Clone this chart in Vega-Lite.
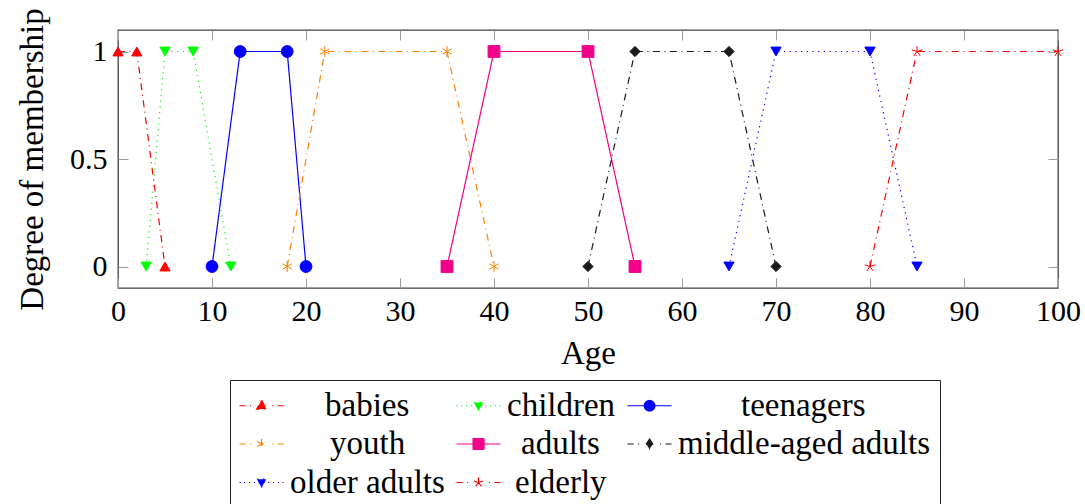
{
  "$schema": "https://vega.github.io/schema/vega-lite/v6.json",
  "autosize": {"type": "none"},
  "padding": {"left": 118, "top": 30, "right": 27, "bottom": 216},
  "width": 940,
  "height": 258,
  "background": "white",
  "config": {
    "view": {"stroke": "#404040", "strokeWidth": 1.3},
    "font": "Liberation Serif, DejaVu Serif, serif",
    "axis": {
      "grid": false, "domain": false, "ticks": true, "tickColor": "#9a9a9a", "tickSize": -10, "tickWidth": 1,
      "labelFont": "Liberation Serif, DejaVu Serif, serif", "labelFontSize": 30, "labelColor": "black", "labelFlush": false,
      "titleFont": "Liberation Serif, DejaVu Serif, serif", "titleFontSize": 33, "titleFontWeight": "normal", "titleColor": "black"
    }
  },
  "data": {"values": [
    {"series": "babies", "age": 0, "m": 1},
    {"series": "babies", "age": 2, "m": 1},
    {"series": "babies", "age": 5, "m": 0},
    {"series": "children", "age": 3, "m": 0},
    {"series": "children", "age": 5, "m": 1},
    {"series": "children", "age": 8, "m": 1},
    {"series": "children", "age": 12, "m": 0},
    {"series": "teenagers", "age": 10, "m": 0},
    {"series": "teenagers", "age": 13, "m": 1},
    {"series": "teenagers", "age": 18, "m": 1},
    {"series": "teenagers", "age": 20, "m": 0},
    {"series": "youth", "age": 18, "m": 0},
    {"series": "youth", "age": 22, "m": 1},
    {"series": "youth", "age": 35, "m": 1},
    {"series": "youth", "age": 40, "m": 0},
    {"series": "adults", "age": 35, "m": 0},
    {"series": "adults", "age": 40, "m": 1},
    {"series": "adults", "age": 50, "m": 1},
    {"series": "adults", "age": 55, "m": 0},
    {"series": "middle-aged adults", "age": 50, "m": 0},
    {"series": "middle-aged adults", "age": 55, "m": 1},
    {"series": "middle-aged adults", "age": 65, "m": 1},
    {"series": "middle-aged adults", "age": 70, "m": 0},
    {"series": "older adults", "age": 65, "m": 0},
    {"series": "older adults", "age": 70, "m": 1},
    {"series": "older adults", "age": 80, "m": 1},
    {"series": "older adults", "age": 85, "m": 0},
    {"series": "elderly", "age": 80, "m": 0},
    {"series": "elderly", "age": 85, "m": 1},
    {"series": "elderly", "age": 100, "m": 1}
  ]},
  "layer": [
    {
      "mark": {"type": "line", "strokeWidth": 1.2},
      "encoding": {
        "x": {"field": "age", "type": "quantitative",
              "scale": {"domain": [0, 100], "nice": false, "zero": false},
              "axis": {"orient": "bottom", "title": "Age", "values": [0,10,20,30,40,50,60,70,80,90,100], "labelPadding": 18, "titlePadding": 11}},
        "y": {"field": "m", "type": "quantitative",
              "scale": {"domain": [-0.1, 1.1], "nice": false, "zero": false},
              "axis": {"orient": "left", "title": "Degree of membership", "values": [0, 0.5, 1], "format": "~g", "labelPadding": 21, "titlePadding": 20}},
        "color": {"field": "series", "type": "nominal",
                  "scale": {"domain": ["babies","children","teenagers","youth","adults","middle-aged adults","older adults","elderly"],
                            "range": ["#ff0000","#00ff00","#0000ff","#ff8000","#f2008a","#1a1a1a","#0000ff","#ff0000"]},
                  "legend": {
                    "orient": "none", "direction": "horizontal", "legendX": 112, "legendY": 350, "title": null, "columns": 3,
                    "symbolSize": 484, "labelOffset": 18, "columnPadding": 9, "rowPadding": 4.5,
                    "padding": 9, "strokeColor": "#222222", "fillColor": "white",
                    "labelFont": "Liberation Serif, DejaVu Serif, serif", "labelFontSize": 33, "labelColor": "black", "labelLimit": 0,
                    "symbolStrokeWidth": 1.2,
                    "encode": {
                      "labels": {"update": {
                        "dx": {"signal": "datum.value === 'babies' ? 35 : datum.value === 'youth' ? 40 : datum.value === 'adults' ? 14 : datum.value === 'elderly' ? 8 : datum.value === 'teenagers' ? 63 : 0"}
                      }},
                      "symbols": {"update": {
                      "shape": {"signal": "datum.value === 'babies' ? 'M-1.45,0L-0.9,0M-0.5,0L-0.4,0M1.5,0L1.6,0M2,0L2.55,0M0.55,-0.5L1,0.3L0.1,0.3Z' : datum.value === 'children' ? 'M-1.45,0L-1.35,0M-1.05,0L-0.95,0M-0.59,0L-0.49,0M-0.14,0L-0.04,0M1.14,0L1.24,0M1.59,0L1.69,0M2.05,0L2.15,0M2.45,0L2.55,0M0.55,0.45L0.97,-0.3L0.13,-0.3Z' : datum.value === 'teenagers' ? 'M-1.45,0L2.55,0M1.03,0A0.48,0.48,0,1,1,0.07,0A0.48,0.48,0,1,1,1.03,0Z' : datum.value === 'youth' ? 'M-1.45,0L-0.9,0M-0.5,0L-0.4,0M1.5,0L1.6,0M2,0L2.55,0M0.55,-0.45L0.55,0.45M0.16,-0.22L0.94,0.22M0.16,0.22L0.94,-0.22' : datum.value === 'adults' ? 'M-1.45,0L2.55,0M0.05,-0.5L1.05,-0.5L1.05,0.5L0.05,0.5Z' : datum.value === 'middle-aged adults' ? 'M-1.45,0L-0.9,0M-0.5,0L-0.4,0M1.5,0L1.6,0M2,0L2.55,0M0.55,-0.45L0.85,0L0.55,0.45L0.25,0Z' : datum.value === 'older adults' ? 'M-1.45,0L-1.35,0M-1.05,0L-0.95,0M-0.59,0L-0.49,0M-0.14,0L-0.04,0M1.14,0L1.24,0M1.59,0L1.69,0M2.05,0L2.15,0M2.45,0L2.55,0M0.55,0.45L0.97,-0.3L0.13,-0.3Z' : 'M-1.45,0L-0.9,0M-0.5,0L-0.4,0M1.5,0L1.6,0M2,0L2.55,0M0.55,0L0.55,-0.45M0.55,0L0.98,-0.14M0.55,0L0.81,0.36M0.55,0L0.29,0.36M0.55,0L0.12,-0.14'"},
                      "fill": {"scale": "color", "field": "value"},
                      "stroke": {"scale": "color", "field": "value"},
                      "strokeDash": {"value": []},
                      "strokeWidth": {"value": 1.2},
                      "opacity": {"value": 1}
                    }}}
                  }},
        "strokeDash": {"field": "series", "type": "nominal",
                       "scale": {"domain": ["babies","children","teenagers","youth","adults","middle-aged adults","older adults","elderly"],
                                 "range": [[7,4.5,1,4.5],[1.2,4.5],[1,0],[7,4.5,1,4.5],[1,0],[7,4.5,1,4.5],[1.2,4.5],[7,4.5,1,4.5]]},
                       "legend": null}
      }
    },
    {
      "mark": {"type": "point", "filled": true, "opacity": 1, "strokeWidth": 1,
               "size": {"expr": "datum.series === 'teenagers' || datum.series === 'adults' ? 140 : datum.series === 'youth' || datum.series === 'elderly' ? 120 : 105"},
               "shape": {"expr": "datum.series === 'babies' ? 'triangle-up' : datum.series === 'children' ? 'triangle-down' : datum.series === 'teenagers' ? 'circle' : datum.series === 'youth' ? 'M0,-1L0,1M-0.866,-0.5L0.866,0.5M-0.866,0.5L0.866,-0.5' : datum.series === 'adults' ? 'square' : datum.series === 'middle-aged adults' ? 'diamond' : datum.series === 'older adults' ? 'triangle-down' : 'M0,0L0,-1M0,0L0.951,-0.309M0,0L0.588,0.809M0,0L-0.588,0.809M0,0L-0.951,-0.309'"}},
      "encoding": {
        "x": {"field": "age", "type": "quantitative",
              "axis": {"orient": "top", "labels": false, "title": null, "values": [0,10,20,30,40,50,60,70,80,90,100]}},
        "y": {"field": "m", "type": "quantitative",
              "axis": {"orient": "right", "labels": false, "title": null, "values": [0, 0.5, 1]}},
        "fill": {"field": "series", "type": "nominal",
                 "scale": {"domain": ["babies","children","teenagers","youth","adults","middle-aged adults","older adults","elderly"],
                           "range": ["#ff0000","#00ff00","#0000ff","#ff8000","#f2008a","#1a1a1a","#0000ff","#ff0000"]},
                 "legend": null},
        "stroke": {"field": "series", "type": "nominal",
                   "scale": {"domain": ["babies","children","teenagers","youth","adults","middle-aged adults","older adults","elderly"],
                             "range": ["#ff0000","#00ff00","#0000ff","#ff8000","#f2008a","#1a1a1a","#0000ff","#ff0000"]},
                   "legend": null}
      }
    }
  ],
  "resolve": {"axis": {"x": "independent", "y": "independent"}}
}
